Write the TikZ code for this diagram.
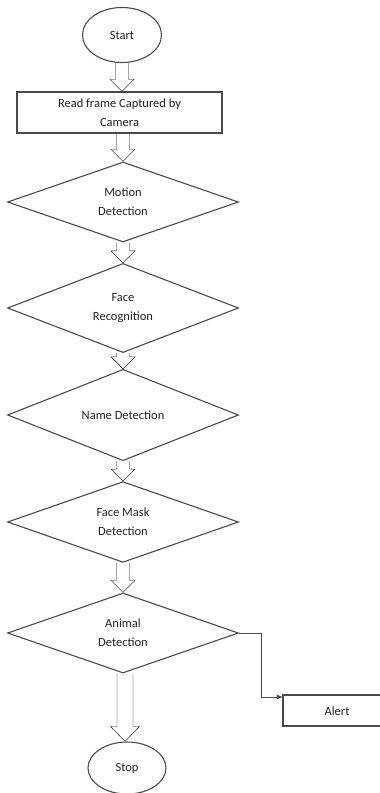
\documentclass[tikz,border=0pt]{standalone}
\usepackage{fontspec}
\setmainfont{Carlito}
\usetikzlibrary{shapes.geometric,calc,arrows.meta}
\definecolor{ln}{HTML}{4A4A4A}
\definecolor{tx}{HTML}{222222}
\tikzset{
  every node/.style={font=\fontsize{12.5}{19}\selectfont, text=tx},
  term/.style={draw=ln, line width=1.1pt, ellipse, inner sep=0pt},
  procbox/.style={draw=ln, line width=1.1pt, rectangle, inner sep=0pt, align=center},
  decide/.style={draw=ln, line width=1.1pt, diamond, inner sep=0pt, minimum width=231pt, minimum height=80pt, align=center},
  blk/.style={draw=ln, line width=1pt, to path={let \p1=(\tikztostart), \p2=(\tikztotarget) in
     (\x1-6.5pt,\y1) -- (\x1-6.5pt,\y2+12pt) -- (\x1-12pt,\y2+12pt) -- (\x1,\y2) -- (\x1+12pt,\y2+12pt) -- (\x1+6.5pt,\y2+12pt) -- (\x1+6.5pt,\y1)}},
  blkwide/.style={draw=ln, line width=1pt, to path={let \p1=(\tikztostart), \p2=(\tikztotarget) in
     (\x1-8pt,\y1) -- (\x1-8pt,\y2+15pt) -- (\x1-14.5pt,\y2+15pt) -- (\x1,\y2) -- (\x1+14.5pt,\y2+15pt) -- (\x1+8pt,\y2+15pt) -- (\x1+8pt,\y1)}},
  link/.style={draw=ln, line width=1pt, -{Latex[length=6pt,width=5pt]}},
}
\begin{document}
\begin{tikzpicture}[x=1pt,y=-1pt]
\useasboundingbox[fill=white] (0,0) rectangle (380,793);
\node[term, minimum width=79pt, minimum height=55pt] (start) at (122,35) {Start};
\node[procbox, minimum width=205pt, minimum height=41pt] (read) at (119.5,112.5) {Read frame Captured by\\Camera};
\node[decide] (motion) at (123,202) {Motion\\Detection};
\node[decide] (face) at (123,308) {Face\\Recognition};
\node[decide] (name) at (123,415) {Name Detection};
\node[decide] (mask) at (123,522) {Face Mask\\Detection};
\node[decide] (animal) at (123,633) {Animal\\Detection};
\node[term, minimum width=78pt, minimum height=52pt] (stop) at (127,768) {Stop};
\node (alert) at (337,711) {Alert};
\coordinate (alertin) at (283,697);
\draw[ln, line width=1.1pt] (380,695) -- (283,695) -- (283,726) -- (380,726);

\draw (start.south) to[blk] (start.south |- read.north);
\draw (read.south -| motion.north) to[blk] (motion.north);
\draw (motion.south) to[blk] (face.north);
\draw (face.south) to[blk] (name.north);
\draw (name.south) to[blk] (mask.north);
\draw (mask.south) to[blk] (animal.north);
\draw ($(animal.south)+(2,0)$) to[blkwide] ($(stop.north)+(-2,0)$);
\draw[link] (animal.east) -- ++(22,0) |- (alertin);
\end{tikzpicture}
\end{document}
